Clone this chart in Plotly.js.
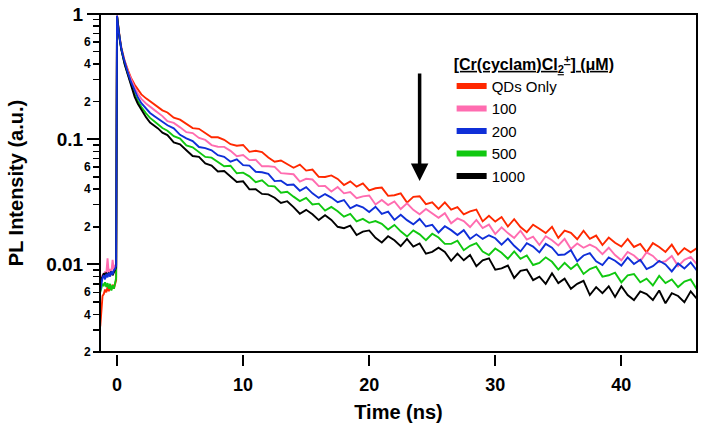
<!DOCTYPE html>
<html>
<head>
<meta charset="utf-8">
<script src="https://cdn.plot.ly/plotly-3.0.1.min.js"></script>
<style>html,body{margin:0;padding:0;background:#fff;}#chart{width:703px;height:431px;}</style>
</head>
<body>
<div id="chart"></div>
<script>
// ---- Data ----
const seriesNames = ["QDs Only", "100", "200", "500", "1000"];
const seriesColors = ["#FF2800", "#FF6CB0", "#0F2FD8", "#10C810", "#000000"];

// time axis (ns)
const time = [
  -1.33, -1.25, -1.15, -1.05, -0.95, -0.85, -0.75, -0.65, -0.55, -0.45, -0.35, -0.25, -0.15, -0.07,
  0, 0.08, 0.21, 0.34, 0.48, 0.61, 0.87, 1.1, 1.4, 1.65, 1.93, 2.3, 2.62, 3.0, 3.25, 3.6,
  4.0, 4.5, 5.0, 5.5, 6.0, 6.5, 7.0, 7.5, 8.0, 8.5, 9.0, 9.5, 10.0, 10.5, 11.0, 11.5, 12.0, 12.5,
  13.0, 13.5, 14.0, 14.5, 15.0, 15.5, 16.0, 16.5, 17.0, 17.5, 18.0, 18.5, 19.0, 19.5, 20.0, 20.5,
  21.0, 21.5, 22.0, 22.5, 23.0, 23.5, 24.0, 24.5, 25.0, 25.5, 26.0, 26.5, 27.0, 27.5, 28.0, 28.5,
  29.0, 29.5, 30.0, 30.5, 31.0, 31.5, 32.0, 32.5, 33.0, 33.5, 34.0, 34.5, 35.0, 35.5, 36.0, 36.5,
  37.0, 37.5, 38.0, 38.5, 39.0, 39.5, 40.0, 40.5, 41.0, 41.5, 42.0, 42.5, 43.0, 43.5, 44.0, 44.5,
  45.0, 45.5, 46.0
];

const qdsOnly = [
  0.0032, 0.0045, 0.0056, 0.0058, 0.0063, 0.0060, 0.0066, 0.0061, 0.0067, 0.0063, 0.0069, 0.0064, 0.0070, 0.0075,
  0.97, 0.80, 0.65, 0.54, 0.47, 0.42, 0.355, 0.31, 0.272, 0.248, 0.228, 0.212, 0.201, 0.190, 0.181, 0.170,
  0.1635, 0.1487, 0.1434, 0.1322, 0.1226, 0.1211, 0.1123, 0.1038, 0.1037, 0.0989,
  0.0912, 0.0887, 0.0900, 0.0793, 0.0808, 0.0790, 0.0715, 0.0662, 0.0677, 0.0633,
  0.0592, 0.0627, 0.0562, 0.0573, 0.0500, 0.0499, 0.0514, 0.0482, 0.0431, 0.0461,
  0.0418, 0.0444, 0.0390, 0.0406, 0.0411, 0.0353, 0.0357, 0.0369, 0.0312, 0.0347,
  0.0351, 0.0303, 0.0313, 0.0278, 0.0313, 0.0274, 0.0287, 0.0251, 0.0265, 0.0274,
  0.0221, 0.0245, 0.0220, 0.0239, 0.0201, 0.0230, 0.0199, 0.0181, 0.0208, 0.0193,
  0.0178, 0.0200, 0.0163, 0.0186, 0.0179, 0.0159, 0.0186, 0.0160, 0.0170, 0.0143,
  0.0164, 0.0149, 0.0139, 0.0160, 0.0138, 0.0146, 0.0125, 0.0148, 0.0138, 0.0126,
  0.0144, 0.0120, 0.0135, 0.0125, 0.0135
];

const cr100 = [
  0.0070, 0.0078, 0.0082, 0.0080, 0.0088, 0.0084, 0.0112, 0.0083, 0.0092, 0.0086, 0.0109, 0.0090, 0.0098, 0.0100,
  0.97, 0.80, 0.645, 0.535, 0.465, 0.415, 0.345, 0.30, 0.258, 0.232, 0.210, 0.193, 0.181, 0.170, 0.163, 0.153,
  0.1396, 0.1350, 0.1244, 0.1139, 0.1119, 0.1024, 0.0987, 0.0898, 0.0872, 0.0869,
  0.0808, 0.0731, 0.0748, 0.0681, 0.0686, 0.0608, 0.0609, 0.0601, 0.0536, 0.0527,
  0.0525, 0.0459, 0.0483, 0.0477, 0.0422, 0.0423, 0.0382, 0.0415, 0.0370, 0.0379,
  0.0338, 0.0350, 0.0355, 0.0301, 0.0327, 0.0298, 0.0319, 0.0277, 0.0308, 0.0273,
  0.0252, 0.0277, 0.0257, 0.0236, 0.0257, 0.0213, 0.0233, 0.0222, 0.0199, 0.0227,
  0.0195, 0.0208, 0.0175, 0.0198, 0.0178, 0.0163, 0.0186, 0.0158, 0.0167, 0.0143,
  0.0168, 0.0156, 0.0142, 0.0160, 0.0133, 0.0147, 0.0136, 0.0144, 0.0136, 0.0121,
  0.0136, 0.0119, 0.0108, 0.0126, 0.0118, 0.0106, 0.0125, 0.0117, 0.0104, 0.0106,
  0.0117, 0.0097, 0.0109, 0.0115, 0.0100
];

const cr200 = [
  0.0062, 0.0072, 0.0078, 0.0082, 0.0076, 0.0084, 0.0079, 0.0086, 0.0080, 0.0088, 0.0083, 0.0090, 0.0092, 0.0098,
  0.97, 0.79, 0.64, 0.53, 0.46, 0.41, 0.337, 0.288, 0.243, 0.216, 0.194, 0.175, 0.162, 0.152, 0.146, 0.137,
  0.1292, 0.1222, 0.1084, 0.1017, 0.0967, 0.0866, 0.0850, 0.0817, 0.0746, 0.0724,
  0.0662, 0.0690, 0.0621, 0.0615, 0.0550, 0.0545, 0.0530, 0.0463, 0.0467, 0.0431,
  0.0435, 0.0388, 0.0415, 0.0370, 0.0340, 0.0365, 0.0342, 0.0314, 0.0327, 0.0281,
  0.0298, 0.0286, 0.0262, 0.0289, 0.0253, 0.0264, 0.0227, 0.0249, 0.0226, 0.0209,
  0.0231, 0.0201, 0.0207, 0.0180, 0.0202, 0.0188, 0.0172, 0.0188, 0.0160, 0.0174,
  0.0160, 0.0171, 0.0162, 0.0144, 0.0161, 0.0141, 0.0127, 0.0148, 0.0139, 0.0125,
  0.0146, 0.0136, 0.0119, 0.0120, 0.0130, 0.0106, 0.0118, 0.0123, 0.0106, 0.0099,
  0.0114, 0.0107, 0.0098, 0.0114, 0.0101, 0.0109, 0.0092, 0.0097, 0.0107, 0.0100,
  0.0088, 0.0102, 0.0093, 0.0104, 0.0089
];

const cr500 = [
  0.0060, 0.0066, 0.0070, 0.0068, 0.0072, 0.0066, 0.0071, 0.0064, 0.0070, 0.0062, 0.0068, 0.0064, 0.0070, 0.0078,
  0.96, 0.79, 0.635, 0.525, 0.455, 0.40, 0.330, 0.278, 0.228, 0.202, 0.181, 0.161, 0.148, 0.138, 0.132, 0.123,
  0.1170, 0.1057, 0.1011, 0.0894, 0.0863, 0.0785, 0.0722, 0.0713, 0.0662, 0.0609,
  0.0614, 0.0535, 0.0541, 0.0505, 0.0454, 0.0470, 0.0424, 0.0420, 0.0374, 0.0381,
  0.0348, 0.0321, 0.0340, 0.0301, 0.0306, 0.0269, 0.0288, 0.0266, 0.0241, 0.0253,
  0.0221, 0.0231, 0.0215, 0.0222, 0.0211, 0.0190, 0.0207, 0.0184, 0.0167, 0.0187,
  0.0174, 0.0156, 0.0176, 0.0164, 0.0146, 0.0146, 0.0155, 0.0130, 0.0141, 0.0148,
  0.0127, 0.0119, 0.0134, 0.0124, 0.0111, 0.0127, 0.0111, 0.0118, 0.0099, 0.0103,
  0.0114, 0.0105, 0.0091, 0.0103, 0.0092, 0.0101, 0.0084, 0.0092, 0.0096, 0.0080,
  0.0082, 0.0086, 0.0072, 0.0082, 0.0084, 0.0072, 0.0077, 0.0068, 0.0081, 0.0071,
  0.0076, 0.0066, 0.0073, 0.0076, 0.0063
];

const cr1000 = [
  0.0068, 0.0076, 0.0080, 0.0085, 0.0082, 0.0086, 0.0081, 0.0085, 0.0083, 0.0088, 0.0082, 0.0086, 0.0089, 0.0095,
  0.96, 0.78, 0.63, 0.52, 0.45, 0.395, 0.325, 0.270, 0.218, 0.192, 0.172, 0.150, 0.136, 0.128, 0.122, 0.113,
  0.1079, 0.0942, 0.0909, 0.0817, 0.0734, 0.0723, 0.0641, 0.0617, 0.0552, 0.0557,
  0.0506, 0.0456, 0.0461, 0.0398, 0.0399, 0.0366, 0.0363, 0.0341, 0.0310, 0.0320,
  0.0287, 0.0254, 0.0273, 0.0252, 0.0226, 0.0247, 0.0227, 0.0200, 0.0195, 0.0204,
  0.0172, 0.0183, 0.0187, 0.0163, 0.0150, 0.0168, 0.0156, 0.0140, 0.0160, 0.0139,
  0.0147, 0.0122, 0.0126, 0.0136, 0.0126, 0.0107, 0.0122, 0.0108, 0.0119, 0.0097,
  0.0108, 0.0112, 0.0091, 0.0093, 0.0098, 0.0078, 0.0089, 0.0091, 0.0075, 0.0080,
  0.0070, 0.0085, 0.0071, 0.0077, 0.0064, 0.0070, 0.0074, 0.0057, 0.0066, 0.0059,
  0.0067, 0.0055, 0.0067, 0.0057, 0.0052, 0.0061, 0.0058, 0.0052, 0.0062, 0.0049,
  0.0059, 0.0056, 0.0050, 0.0061, 0.0053
];

const seriesValues = [qdsOnly, cr100, cr200, cr500, cr1000];

const xTickVals = [0, 10, 20, 30, 40];
const xTickText = ["0", "10", "20", "30", "40"];
const yMajorVals = [0.01, 0.1, 1];
const yMajorText = ["0.01", "0.1", "1"];
const yLabeledMinorVals = [0.002, 0.004, 0.006, 0.02, 0.04, 0.06, 0.2, 0.4, 0.6];
const yLabeledMinorText = ["2", "4", "6", "2", "4", "6", "2", "4", "6"];
const yAllMinorVals = [0.002, 0.003, 0.004, 0.005, 0.006, 0.007, 0.008, 0.009,
                       0.02, 0.03, 0.04, 0.05, 0.06, 0.07, 0.08, 0.09,
                       0.2, 0.3, 0.4, 0.5, 0.6, 0.7, 0.8, 0.9];
const legendTitle = "<u>[Cr(cyclam)Cl<sub>2</sub><sup>+</sup>] (μM)</u>";
const arrowTime = 24;
const arrowFrom = 0.345;
const arrowTo = 0.0465;

// ---- Build traces ----
const FONT = "Liberation Sans, Arial, Helvetica, sans-serif";
const drawOrder = [0, 1, 3, 4, 2];
const traces = [];
drawOrder.forEach(i => {
  traces.push({
    x: time, y: seriesValues[i], type: "scatter", mode: "lines",
    line: {color: seriesColors[i], width: 1.9},
    showlegend: false, hoverinfo: "skip"
  });
});
seriesNames.forEach((n, i) => {
  traces.push({
    x: [null], y: [null], type: "scatter", mode: "lines", name: n,
    line: {color: seriesColors[i], width: 6},
    showlegend: true
  });
});
// invisible traces to activate the minor-tick axes
traces.push({x: [null], y: [null], yaxis: "y2", type: "scatter", mode: "lines", showlegend: false});
traces.push({x: [null], y: [null], yaxis: "y3", type: "scatter", mode: "lines", showlegend: false});

const yRange = [Math.log10(0.002), 0];

const layout = {
  width: 703, height: 431,
  margin: {l: 100, r: 6, t: 14, b: 77},
  paper_bgcolor: "#fff", plot_bgcolor: "#fff",
  font: {family: FONT, color: "#000"},
  xaxis: {
    range: [-1.35, 46], anchor: "free", position: 0,
    showgrid: false, zeroline: false, showline: false,
    ticks: "outside", ticklen: 11, tickwidth: 2, tickcolor: "#000",
    tickmode: "array", tickvals: xTickVals, ticktext: xTickText,
    tickfont: {family: FONT, size: 18, weight: "bold"}, ticklabelstandoff: 3,
    title: {text: "Time (ns)", font: {family: FONT, size: 20, weight: "bold"}, standoff: 11}
  },
  yaxis: {
    type: "log", range: yRange, domain: [2/340, 1], anchor: "x",
    showgrid: false, zeroline: false, showline: false,
    ticks: "outside", ticklen: 12, tickwidth: 2, tickcolor: "#000",
    tickmode: "array", tickvals: yMajorVals, ticktext: yMajorText,
    tickfont: {family: FONT, size: 19, weight: "bold"},
    title: {text: "PL Intensity (a.u.)", font: {family: FONT, size: 20, weight: "bold"}, standoff: 17}
  },
  yaxis2: {
    type: "log", range: yRange, overlaying: "y", side: "left", anchor: "x",
    showgrid: false, zeroline: false, showline: false,
    ticks: "outside", ticklen: 6, tickwidth: 1.5, tickcolor: "#000",
    tickmode: "array", tickvals: yLabeledMinorVals, ticktext: yLabeledMinorText,
    tickfont: {family: FONT, size: 12, weight: "bold"}
  },
  yaxis3: {
    type: "log", range: yRange, overlaying: "y", side: "left", anchor: "x",
    showgrid: false, zeroline: false, showline: false, showticklabels: false,
    ticks: "outside", ticklen: 6, tickwidth: 1.5, tickcolor: "#000",
    tickmode: "array", tickvals: yAllMinorVals
  },
  shapes: [{
    type: "rect", xref: "x domain", yref: "y domain", x0: 0, x1: 1, y0: 0, y1: 1,
    line: {color: "#000", width: 2}, fillcolor: "rgba(0,0,0,0)", layer: "above"
  }],
  legend: {
    x: 0.589, y: 0.897, xanchor: "left", yanchor: "top",
    bgcolor: "rgba(0,0,0,0)", borderwidth: 0,
    font: {family: FONT, size: 15, color: "#000"},
    title: {text: legendTitle, font: {family: FONT, size: 16, weight: "bold"}, side: "top"},
    tracegroupgap: 0, itemwidth: 30
  },
  annotations: [{
    x: arrowTime, y: Math.log10(arrowTo), xref: "x", yref: "y",
    ax: arrowTime, ay: Math.log10(arrowFrom), axref: "x", ayref: "y",
    showarrow: true, arrowhead: 2, arrowsize: 1, arrowwidth: 3.5, arrowcolor: "#000", text: ""
  }]
};

Plotly.newPlot("chart", traces, layout, {displayModeBar: false, staticPlot: true});
</script>
</body>
</html>
